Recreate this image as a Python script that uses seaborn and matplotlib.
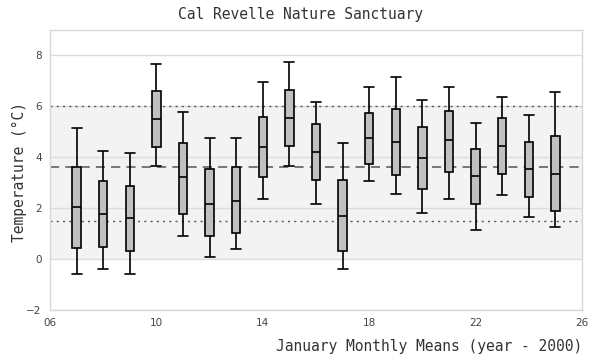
import numpy as np
import pandas as pd
import matplotlib
matplotlib.use("Agg")
import matplotlib.pyplot as plt
import seaborn as sns

# January monthly means (five-number summaries)
years = [7, 8, 9, 10, 11, 12, 13, 14, 15, 16, 17, 18, 19, 20, 21, 22, 23, 24, 25]
lows = [-0.60, -0.39, -0.60, 3.66, 0.89, 0.07, 0.38, 2.38, 3.66, 2.18,
        -0.40, 3.08, 2.57, 1.80, 2.38, 1.16, 2.50, 1.67, 1.28]
q1s = [0.42, 0.46, 0.31, 4.42, 1.79, 0.89, 1.01, 3.22, 4.46, 3.12,
       0.30, 3.75, 3.32, 2.77, 3.44, 2.16, 3.36, 2.42, 1.87]
medians = [2.03, 1.76, 1.60, 5.52, 3.22, 2.18, 2.30, 4.42, 5.56, 4.22,
           1.71, 4.77, 4.61, 3.99, 4.67, 3.25, 4.46, 3.52, 3.36]
q3s = [3.63, 3.05, 2.89, 6.61, 4.56, 3.52, 3.60, 5.58, 6.64, 5.31,
       3.12, 5.75, 5.90, 5.20, 5.83, 4.34, 5.56, 4.61, 4.85]
highs = [5.15, 4.26, 4.17, 7.67, 5.79, 4.76, 4.76, 6.95, 7.75, 6.18,
         4.56, 6.76, 7.15, 6.26, 6.76, 5.36, 6.37, 5.66, 6.58]

overall_mean = 3.6
band_low, band_high = 0, 6
dotted_levels = [1.5, 6.0]

xticks = [6, 10, 14, 18, 22, 26]
xtick_labels = ["06", "10", "14", "18", "22", "26"]
yticks = [-2, 0, 2, 4, 6, 8]

rows = []
for i, yr in enumerate(years):
    for v in (lows[i], q1s[i], medians[i], q3s[i], highs[i]):
        rows.append({"year": yr, "temp": v})
df = pd.DataFrame(rows)

sns.set_style("white")
plt.rcParams['font.family'] = ['DejaVu Sans']

fig = plt.figure(figsize=(6, 3.6), dpi=100)
ax = fig.add_axes([50 / 600, 1 - 310 / 360, 532 / 600, 280 / 360])

ax.axhspan(band_low, band_high, color="#f3f3f3", zorder=0, lw=0)
for y in yticks:
    ax.axhline(y, color="#dcdcdc", lw=1, zorder=0.5)

sns.boxplot(data=df, x="year", y="temp", native_scale=True, whis=np.inf,
            width=0.31, color="#c0c0c0", saturation=1, linecolor="black",
            linewidth=1.2, capwidths=0.37, ax=ax, zorder=3)

for lv in dotted_levels:
    ax.axhline(lv, color="#555555", lw=1, ls=(0, (1.5, 3)), zorder=1)
ax.axhline(overall_mean, color="#555555", lw=1.1, ls=(0, (6, 4)), zorder=1)

ax.set_xlim(6, 26)
ax.set_ylim(-2, 9)
ax.set_xticks(xticks)
ax.set_xticklabels(xtick_labels)
ax.set_yticks(yticks)
ax.tick_params(axis="both", length=0, labelsize=7.5, labelcolor="#444444", pad=6)

for s in ax.spines.values():
    s.set_color("#d8d8d8")
    s.set_linewidth(1)

mono = ["DejaVu Sans Mono"]
ax.set_xlabel("")
ax.set_ylabel("")
fig.text(19 / 600, 1 - 172 / 360, "Temperature (°C)", family=mono, rotation=90,
         fontsize=10.5, color="#333333", ha="center", va="center")
fig.text(582 / 600, 1 - 347 / 360, "January Monthly Means (year - 2000)", family=mono,
         fontsize=10.5, color="#333333", ha="right", va="center")
fig.text(0.5, 1 - 14 / 360, "Cal Revelle Nature Sanctuary", family=mono,
         fontsize=10.5, color="#333333", ha="center", va="center")

fig.savefig("out.png", dpi=100)
